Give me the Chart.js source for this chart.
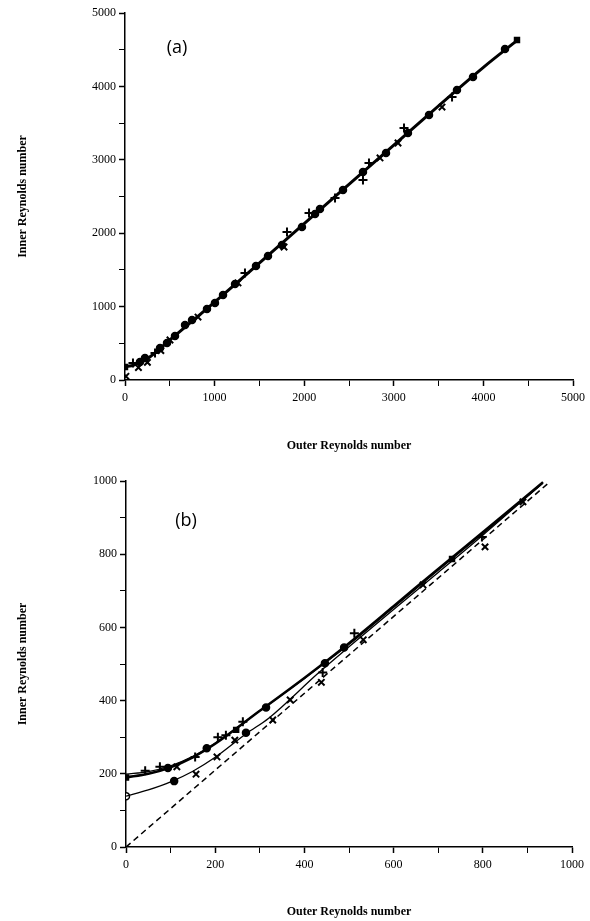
<!DOCTYPE html>
<html>
<head>
<meta charset="utf-8">
<script src="https://cdn.jsdelivr.net/npm/chart.js@4.4.0/dist/chart.umd.min.js"></script>
<style>
  body { margin: 0; background: #fff; }
  #wrapA { position: absolute; left: 0; top: 0; }
  #wrapB { position: absolute; left: 0; top: 460px; }
</style>
</head>
<body>
<div id="wrapA"><canvas id="chartA" width="590" height="460"></canvas></div>
<div id="wrapB"><canvas id="chartB" width="590" height="461"></canvas></div>
<script>
// ---- panel (a) data ----
var aCircleX = [167, 223, 391, 469, 558, 670, 748, 915, 1004, 1094, 1228, 1462, 1596, 1752, 1975, 2121, 2176, 2433, 2656, 2913, 3158, 3393, 3705, 3884, 4241];
var aCircleY = [245, 300, 436, 504, 600, 749, 817, 967, 1049, 1158, 1308, 1553, 1689, 1839, 2085, 2262, 2330, 2589, 2834, 3093, 3365, 3610, 3951, 4128, 4510];
var aPlusX = [89, 335, 1339, 1808, 2054, 2344, 2656, 2723, 3114, 3650];
var aPlusY = [232, 368, 1458, 2016, 2275, 2480, 2725, 2956, 3433, 3856];
var aCrossX = [10, 150, 250, 400, 502, 815, 1261, 1775, 2846, 3047, 3538];
var aCrossY = [50, 170, 240, 400, 545, 858, 1322, 1812, 3025, 3229, 3719];
var aSquareX = [0, 4375];
var aSquareY = [177, 4632];
var aFitX = [0, 100, 250, 500, 1000, 2000, 3000, 4000, 4380];
var aFitY = [180, 205, 290, 545, 1060, 2130, 3200, 4260, 4630];

// ---- panel (b) data ----
var bCircleX = [94, 108, 181, 269, 314, 446, 489];
var bCircleY = [216, 180, 270, 312, 381, 502, 545];
var bOpenX = [0];
var bOpenY = [139];
var bPlusX = [43, 76, 155, 206, 224, 262, 441, 512, 798];
var bPlusY = [208, 219, 246, 300, 305, 342, 477, 584, 847];
var bCrossX = [114, 157, 204, 244, 329, 368, 438, 532, 666, 805, 890];
var bCrossY = [219, 199, 246, 292, 347, 402, 450, 566, 716, 820, 943];
var bSquareX = [0, 247, 731];
var bSquareY = [190, 320, 787];
var bUpperX = [0, 50, 100, 150, 200, 300, 400, 500, 600, 700, 800, 935];
var bUpperY = [190, 200, 218, 245, 282, 372, 462, 557, 658, 760, 860, 997];
var bUpper2Y = [199, 206, 222, 248, 284, 372, 460, 553, 654, 756, 856, 994];
var bLowerX = [0, 50, 100, 150, 200, 270, 320, 430, 500, 600, 700, 800, 930];
var bLowerY = [139, 156, 178, 207, 245, 310, 352, 474, 547, 649, 750, 852, 990];
var bDiagX = [0, 946];
var bDiagY = [0, 993];

function pts(xs, ys) {
  return xs.map(function (x, i) { return { x: x, y: ys[i] }; });
}

function markers(xs, ys, style, r, filled, w) {
  return {
    type: 'scatter',
    data: pts(xs, ys),
    pointStyle: style,
    pointRadius: r,
    borderColor: '#000',
    backgroundColor: filled ? '#000' : '#fff',
    borderWidth: w || 1.5
  };
}

function curve(xs, ys, w, dash) {
  return {
    type: 'line',
    data: pts(xs, ys),
    showLine: true,
    pointRadius: 0,
    borderColor: '#000',
    borderWidth: w,
    borderDash: dash || [],
    cubicInterpolationMode: 'monotone',
    fill: false
  };
}

var panelLabel = {
  id: 'panelLabel',
  afterDraw: function (chart, args, opts) {
    var ctx = chart.ctx;
    var area = chart.chartArea;
    ctx.save();
    ctx.font = '18px "Open Sans"';
    ctx.fillStyle = '#000';
    ctx.textAlign = 'center';
    ctx.textBaseline = 'middle';
    ctx.fillText(opts.text, area.left + opts.dx, area.top + opts.dy);
    ctx.restore();
  }
};

function axisOpts(max, step, title, yAxis, fitSize, titlePad) {
  return {
    type: 'linear',
    min: 0,
    max: max,
    afterFit: function (s) {
      if (yAxis) s.width = fitSize; else s.height = fitSize;
    },
    border: { color: '#000', width: 1.5 },
    grid: {
      drawOnChartArea: false,
      color: '#000',
      tickLength: 6,
      tickWidth: function (c) { return c.tick && c.tick.value % (step * 2) === 0 ? 1.5 : 1; }
    },
    ticks: {
      stepSize: step,
      autoSkip: false,
      maxRotation: 0,
      padding: yAxis ? 3 : 5,
      color: '#000',
      font: { family: '"Liberation Serif"', size: 12 },
      callback: function (v) { return v % (step * 2) === 0 ? v : ''; }
    },
    title: {
      display: true,
      text: title,
      color: '#000',
      font: { family: '"Liberation Serif"', size: 12, weight: 'bold' },
      padding: titlePad
    }
  };
}

Chart.defaults.animation = false;

new Chart(document.getElementById('chartA'), {
  type: 'scatter',
  data: {
    datasets: [
      curve(aFitX, aFitY, 3),
      markers(aCircleX, aCircleY, 'circle', 3.5, true),
      markers(aPlusX, aPlusY, 'cross', 4.5, true, 2),
      markers(aCrossX, aCrossY, 'crossRot', 4.5, true, 2),
      markers(aSquareX, aSquareY, 'rect', 3.5, true)
    ]
  },
  plugins: [panelLabel],
  options: {
    responsive: false,
    devicePixelRatio: 1,
    layout: { padding: { top: 13, right: 17, left: 0, bottom: 0 } },
    plugins: {
      legend: { display: false },
      tooltip: { enabled: false },
      panelLabel: { text: '(a)', dx: 52, dy: 35 }
    },
    scales: {
      x: axisOpts(5000, 500, 'Outer Reynolds number', false, 80, { top: 0, bottom: 7 }),
      y: axisOpts(5000, 500, 'Inner Reynolds number', true, 125, { top: 16, bottom: 0 })
    }
  }
});

new Chart(document.getElementById('chartB'), {
  type: 'scatter',
  data: {
    datasets: [
      curve(bDiagX, bDiagY, 1.5, [6, 4]),
      curve(bLowerX, bLowerY, 1.3),
      curve(bUpperX, bUpper2Y, 1.2),
      curve(bUpperX, bUpperY, 2.5),
      markers(bCircleX, bCircleY, 'circle', 3.5, true),
      markers(bOpenX, bOpenY, 'circle', 3.5, false),
      markers(bPlusX, bPlusY, 'cross', 4.5, true, 2),
      markers(bCrossX, bCrossY, 'crossRot', 4.5, true, 2),
      markers(bSquareX, bSquareY, 'rect', 3.5, true)
    ]
  },
  plugins: [panelLabel],
  options: {
    responsive: false,
    devicePixelRatio: 1,
    layout: { padding: { top: 21, right: 18, left: 0, bottom: 0 } },
    plugins: {
      legend: { display: false },
      tooltip: { enabled: false },
      panelLabel: { text: '(b)', dx: 60, dy: 40 }
    },
    scales: {
      x: axisOpts(1000, 100, 'Outer Reynolds number', false, 74, { top: 0, bottom: 2 }),
      y: axisOpts(1000, 100, 'Inner Reynolds number', true, 126, { top: 16, bottom: 0 })
    }
  }
});
</script>
</body>
</html>
